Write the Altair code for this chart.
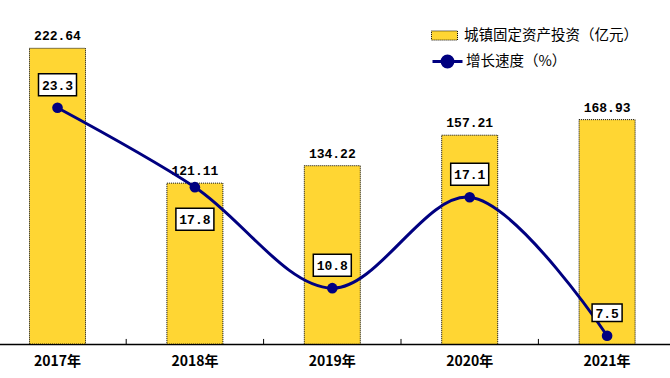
import altair as alt
import pandas as pd

categories = ['2017年', '2018年', '2019年', '2020年', '2021年']
investment = [222.64, 121.11, 134.22, 157.21, 168.93]
growth = [23.3, 17.8, 10.8, 17.1, 7.5]
bar_name = '城镇固定资产投资（亿元）'
line_name = '增长速度（%）'

df = pd.DataFrame({'cat': categories, 'inv': investment, 'gr': growth,
                   'bs': [bar_name] * len(categories), 'ls': [line_name] * len(categories)})

NAVY = '#000080'
YELLOW = '#FFD633'
NUMFONT = 'Liberation Mono'
CJK = 'Noto Sans CJK SC'


def mkx(**kw):
    return alt.X('cat:N', sort=categories,
                 scale=alt.Scale(range=[-11.2, 675.8], paddingInner=0, paddingOuter=0),
                 axis=alt.Axis(title=None, labelAngle=0, ticks=False, domainColor='black',
                               domainWidth=1.5, labelFont=CJK, labelFontWeight='bold',
                               labelFontSize=14, labelColor='black', labelPadding=10),
                 **kw)


y_inv = alt.Y('inv:Q', scale=alt.Scale(domain=[0, 259], nice=False, zero=True), axis=None)
y_gr = alt.Y('gr:Q', scale=alt.Scale(domain=[6.93, 30.77], nice=False, zero=False), axis=None)

base = alt.Chart(df)

bars = base.mark_bar(width=56, stroke='black', strokeDash=[1, 1], strokeWidth=1).encode(
    x=mkx(), y=y_inv,
    color=alt.Color('bs:N', scale=alt.Scale(domain=[bar_name], range=[YELLOW]),
                    legend=alt.Legend(title=None, orient='none', legendX=431, legendY=22,
                                      symbolType='M-1,-0.35H1V0.35H-1Z', symbolSize=676,
                                      symbolStrokeColor='black', symbolDash=[1, 1],
                                      symbolStrokeWidth=1, labelFont=CJK, labelFontSize=14.5,
                                      labelColor='black', labelOffset=6, labelLimit=400,
                                      padding=0)))

bar_text = base.mark_text(dy=-8, baseline='alphabetic', font=NUMFONT, fontWeight='bold',
                          fontSize=13, color='black').encode(
    x=mkx(), y=y_inv, text=alt.Text('inv:Q', format='.2f'))

ticks = base.transform_filter(alt.datum.cat != categories[0]).mark_rule(
    color='black', strokeWidth=1).encode(
    x=mkx(bandPosition=0), y=alt.datum(0), y2=alt.datum(3.8))

line = base.mark_line(interpolate='catmull-rom', color=NAVY, strokeWidth=3).encode(
    x=mkx(), y=y_gr)

points = base.mark_circle(size=113, opacity=1).encode(
    x=mkx(), y=y_gr,
    color=alt.Color('ls:N', scale=alt.Scale(domain=[line_name], range=[NAVY]),
                    legend=alt.Legend(title=None, orient='none', legendX=431, legendY=45,
                                      symbolType='M-1,0H1M0.36,0A0.36,0.36,0,1,1,-0.36,0A0.36,0.36,0,1,1,0.36,0Z',
                                      symbolSize=900, symbolStrokeColor=NAVY,
                                      symbolStrokeWidth=3, symbolFillColor=NAVY,
                                      labelFont=CJK, labelFontSize=14.5, labelColor='black',
                                      labelOffset=2, labelLimit=400, padding=0)))

box_base = base.transform_calculate(
    bw='8*length(format(datum.gr, ".1f")) + 6'
).transform_calculate(bsz='datum.bw * datum.bw')

BOX = 'M-1,-0.58H1V0.58H-1Z'


def label_layers(filt, off):
    b = box_base.transform_filter(filt).mark_point(
        shape=BOX, filled=True, fill='white', stroke='black', strokeWidth=1.5, opacity=1,
        yOffset=off).encode(x=mkx(), y=y_gr, size=alt.Size('bsz:Q', scale=None, legend=None))
    t = box_base.transform_filter(filt).mark_text(
        font=NUMFONT, fontWeight='bold', fontSize=13, color='black', baseline='middle',
        yOffset=off + 1).encode(x=mkx(), y=y_gr, text=alt.Text('gr:Q', format='.1f'))
    return [b, t]


above = label_layers(alt.datum.cat != '2018年', -23)
below = label_layers(alt.datum.cat == '2018年', 32)

chart = alt.layer(
    alt.layer(bars, bar_text, ticks),
    alt.layer(line, points, *above, *below),
).resolve_scale(y='independent', color='independent').properties(
    width=670, height=344, autosize='none',
    padding={'left': 0, 'right': 0, 'top': 0, 'bottom': 34},
    background='white'
).configure_view(stroke=None)

chart.save('out.html', embed_options={'renderer': 'svg', 'actions': False})
